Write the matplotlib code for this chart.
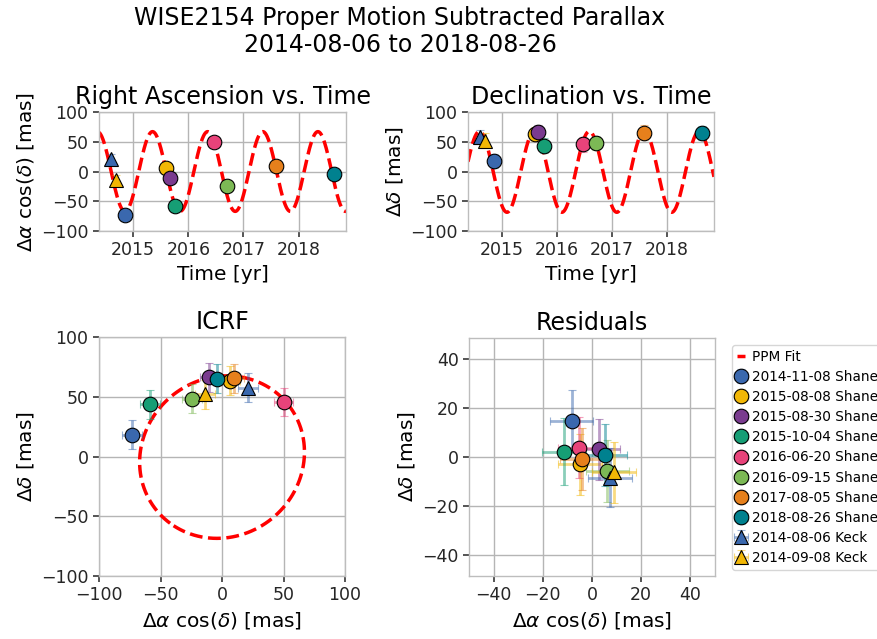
import numpy as np
import pandas as pd
import matplotlib
matplotlib.use('Agg')
import matplotlib.pyplot as plt

# observations
labels = ['2014-11-08 Shane', '2015-08-08 Shane', '2015-08-30 Shane', '2015-10-04 Shane',
          '2016-06-20 Shane', '2016-09-15 Shane', '2017-08-05 Shane', '2018-08-26 Shane',
          '2014-08-06 Keck', '2014-09-08 Keck']
dates = ['2014-11-08', '2015-08-08', '2015-08-30', '2015-10-04', '2016-06-20',
         '2016-09-15', '2017-08-05', '2018-08-26', '2014-08-06', '2014-09-08']
markers = ['o'] * 8 + ['^'] * 2
colors = ['#3a68ae', '#f2b705', '#7a3b8f', '#169e75', '#e8437a',
          '#7cb955', '#e6801c', '#00818f', '#3a68ae', '#f2b705']

# proper-motion subtracted offsets [mas]
ra = [-73.0, 6.5, -10.3, -58.4, 50.0, -24.4, 10.0, -3.8, 21.0, -13.6]
dec = [18.2, 63.4, 66.3, 43.7, 45.6, 48.4, 65.4, 65.1, 57.6, 52.0]
ra_err = [8.0, 8.0, 8.0, 8.0, 8.0, 8.0, 8.0, 8.0, 8.0, 8.0]
dec_err = [12.0, 12.0, 12.0, 12.0, 12.0, 12.0, 12.0, 12.0, 12.0, 12.0]

# residuals after fit [mas]
res_ra = [-8.3, -4.9, 2.8, -11.3, -5.2, 6.2, -4.1, 5.2, 7.3, 9.0]
res_dec = [14.6, -3.0, 3.1, 2.2, 3.8, -5.7, -0.8, 0.8, -8.4, -6.2]
res_ra_err = [8.8, 8.8, 8.5, 8.9, 8.8, 8.8, 8.8, 9.0, 9.0, 9.0]
res_dec_err = [12.7, 12.5, 12.5, 13.8, 12.5, 12.5, 12.5, 12.7, 12.0, 12.5]

# parallax fit parameters (annual ellipse)
amp_ra, phase_ra = 67.0, 0.35
amp_dec, phase_dec, off_dec = 68.0, 0.59, -0.5
t_lo, t_hi = 2014.38, 2018.86

def decyear(s):
    d = pd.Timestamp(s)
    start = pd.Timestamp(year=d.year, month=1, day=1)
    end = pd.Timestamp(year=d.year + 1, month=1, day=1)
    return d.year + (d - start) / (end - start)

t_obs = np.array([decyear(s) for s in dates])
t_fit = np.linspace(t_lo, t_hi, 800)
ra_fit = amp_ra * np.cos(2 * np.pi * (t_fit - phase_ra))
dec_fit = amp_dec * np.cos(2 * np.pi * (t_fit - phase_dec)) + off_dec
# one full loop for the sky-plane ellipse
t_loop = np.linspace(2015.0, 2016.0, 400)
ra_loop = amp_ra * np.cos(2 * np.pi * (t_loop - phase_ra))
dec_loop = amp_dec * np.cos(2 * np.pi * (t_loop - phase_dec)) + off_dec

plt.rcParams.update({
    'axes.edgecolor': '#bdbdbd',
    'axes.linewidth': 1.0,
    'grid.color': '#b5b5b5',
    'grid.linewidth': 1.0,
    'xtick.color': '#262626',
    'ytick.color': '#262626',
    'xtick.labelsize': 12.5,
    'ytick.labelsize': 12.5,
    'axes.labelsize': 14.5,
    'axes.titlesize': 17,
    'xtick.direction': 'out',
    'ytick.direction': 'out',
    'xtick.major.size': 4,
    'ytick.major.size': 4,
    'xtick.major.width': 1.1,
    'ytick.major.width': 1.1,
    'mathtext.fontset': 'dejavusans',
})

fig = plt.figure(figsize=(8.78, 6.39), dpi=100)
ax_ra = fig.add_axes([0.1128, 0.6385, 0.2813, 0.1862])
ax_dec = fig.add_axes([0.5330, 0.6385, 0.2802, 0.1862])
ax_icrf = fig.add_axes([0.1128, 0.0986, 0.2802, 0.3740])
ax_res = fig.add_axes([0.5342, 0.0986, 0.2802, 0.3725])

fit_kw = dict(color='red', ls='--', lw=2.5, zorder=2)
ax_ra.plot(t_fit, ra_fit, **fit_kw)
ax_dec.plot(t_fit, dec_fit, **fit_kw)
ax_icrf.plot(ra_loop, dec_loop, label='PPM Fit', **fit_kw)

def fade(e):
    for art in e[1] + e[2]:
        art.set_alpha(0.5)

for i in range(len(labels)):
    pkw = dict(marker=markers[i], color=colors[i], ms=10.5, mec='black', mew=0.8,
               ls='none', ecolor=colors[i], elinewidth=2, capsize=3, zorder=3)
    fade(ax_ra.errorbar(t_obs[i], ra[i], yerr=ra_err[i], **pkw))
    fade(ax_dec.errorbar(t_obs[i], dec[i], yerr=dec_err[i], **pkw))
    fade(ax_icrf.errorbar(ra[i], dec[i], xerr=ra_err[i], yerr=dec_err[i],
                          label=labels[i], **pkw))
    fade(ax_res.errorbar(res_ra[i], res_dec[i], xerr=res_ra_err[i], yerr=res_dec_err[i], **pkw))

ra_lab = r'$\mathit{\Delta\alpha}$ cos($\delta$) [mas]'
dec_lab = r'$\mathit{\Delta\delta}$ [mas]'

for ax in (ax_ra, ax_dec):
    ax.set_xlim(t_lo, t_hi)
    ax.set_ylim(-100, 100)
    ax.set_xticks([2015, 2016, 2017, 2018])
    ax.set_yticks([-100, -50, 0, 50, 100])
    ax.set_xlabel('Time [yr]')
    ax.grid(True)
    ax.set_axisbelow(True)

ax_ra.set_title('Right Ascension vs. Time')
ax_ra.set_ylabel(ra_lab)
ax_dec.set_title('Declination vs. Time')
ax_dec.set_ylabel(dec_lab)

ax_icrf.set_xlim(-100, 100)
ax_icrf.set_ylim(-100, 100)
ax_icrf.set_xticks([-100, -50, 0, 50, 100])
ax_icrf.set_yticks([-100, -50, 0, 50, 100])
ax_icrf.set_title('ICRF')

ax_res.set_xlim(-50, 50)
ax_res.set_ylim(-48.5, 48.5)
ax_res.set_xticks([-40, -20, 0, 20, 40])
ax_res.set_yticks([-40, -20, 0, 20, 40])
ax_res.set_title('Residuals')

for ax in (ax_icrf, ax_res):
    ax.set_xlabel(ra_lab)
    ax.set_ylabel(dec_lab)
    ax.grid(True)
    ax.set_axisbelow(True)

handles, labs = ax_icrf.get_legend_handles_labels()
leg = fig.legend(handles, labs, loc='upper left', bbox_to_anchor=(0.8337, 0.4601),
                 fontsize=9.8, handlelength=0.6, handletextpad=0.5, borderaxespad=0,
                 labelspacing=0.45, borderpad=0.35, frameon=True)

fig.suptitle('WISE2154 Proper Motion Subtracted Parallax\n2014-08-06 to 2018-08-26',
             fontsize=17, x=0.4556, y=0.99, linespacing=1.12)

fig.savefig('out.png', dpi=100)
